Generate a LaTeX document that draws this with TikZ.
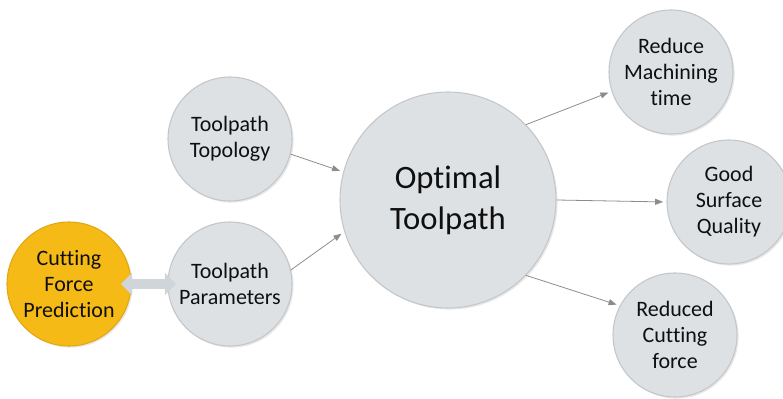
\documentclass[tikz,border=0pt]{standalone}
\usepackage{fontspec}
\setmainfont{Carlito}[Ligatures=NoCommon]
\usetikzlibrary{arrows.meta,shadows}
\definecolor{cBubble} {RGB}{222,225,228}
\definecolor{cEdge}   {RGB}{196,199,202}
\definecolor{cGold}   {RGB}{246,186,22}
\definecolor{cGoldEdge}{RGB}{226,168,20}
\definecolor{cLink}   {RGB}{140,140,140}
\definecolor{cBlock}  {RGB}{208,213,218}
\definecolor{cText}   {RGB}{15,15,15}
\tikzset{
  bubble/.style={circle,fill=cBubble,draw=cEdge,line width=0.8pt,
    minimum size=93pt,inner sep=0pt,align=center,text=cText,
    font=\fontsize{16.5}{19.5}\selectfont,
    drop shadow={opacity=0.18,shadow xshift=1.2pt,shadow yshift=-1.2pt}},
  hub/.style={bubble,minimum size=162pt,font=\fontsize{24.5}{31}\selectfont},
  seed/.style={bubble,fill=cGold,draw=cGoldEdge},
  swapper/.style={cBlock,line width=7.5pt,
    {Triangle[length=8.5pt,width=16.5pt]}-{Triangle[length=8.5pt,width=16.5pt]},
    shorten <=-8pt,shorten >=-6.5pt},
  link/.style={cLink,line width=0.6pt,-{Triangle[length=6pt,width=4.5pt]},
    shorten >=2.5pt}
}

\begin{document}
\begin{tikzpicture}[x=0.75pt,y=-0.75pt]
\useasboundingbox (0,0) rectangle (783,399);

% =================== ENTRADAS ===================
\node[bubble] (topology)   at (230,139) {Toolpath\\Topology};
\node[bubble] (parameters) at (230,284) {Toolpath\\Parameters};
\node[seed]   (force)      at (69,284)  {Cutting\\Force\\Prediction};

% seta dupla entre previsao e parametros
\draw[swapper] (force.east) -- (parameters.west);

% =================== CENTRO ===================
\node[hub] (optimal) at (448,200) {Optimal\\Toolpath};

% =================== SAIDAS ===================
\node[bubble] (machining) at (671,72)  {Reduce\\Machining\\time};
\node[bubble] (surface)   at (729,202) {Good\\Surface\\Quality};
\node[bubble] (cutting)   at (675,335) {Reduced\\Cutting\\force};

% ligacoes
\draw[link] (topology.-14)  -- (optimal.165);
\draw[link] (parameters.13) -- (optimal.-163);
\draw[link] (optimal.44)    -- (machining.-162);
\draw[link] (optimal.0)     -- (surface.180);
\draw[link] (optimal.-44)   -- (cutting.152);

\end{tikzpicture}
\end{document}
